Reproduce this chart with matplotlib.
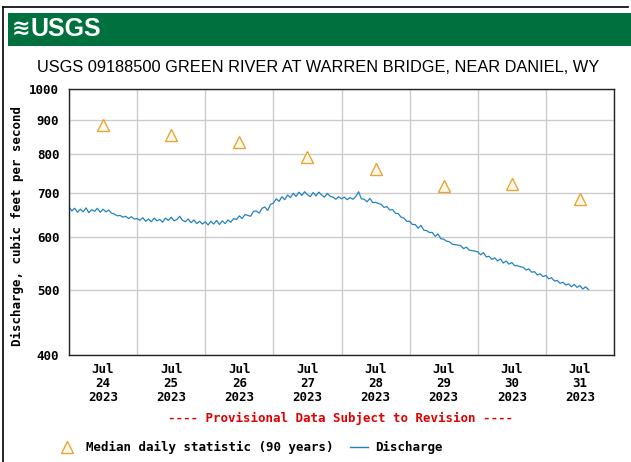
import matplotlib
matplotlib.use("Agg")
import matplotlib.pyplot as plt
from matplotlib import font_manager
from matplotlib.lines import Line2D
from matplotlib.patches import Rectangle
from matplotlib.ticker import NullLocator, NullFormatter
import pandas as pd

# hourly discharge (cfs), one list per day starting 00:00
jul24 = [666, 657, 663, 654, 661, 655, 664, 653, 660, 656, 663, 654,
         661, 655, 659, 652, 650, 646, 647, 643, 645, 640, 644, 639]
jul25 = [640, 636, 642, 634, 639, 633, 641, 635, 638, 632, 641, 636,
         643, 635, 638, 645, 636, 633, 639, 631, 637, 629, 634, 628]
jul26 = [633, 626, 634, 628, 636, 627, 635, 629, 637, 632, 640, 638,
         646, 640, 649, 647, 645, 656, 657, 652, 663, 666, 658, 672]
jul27 = [675, 685, 679, 690, 683, 694, 688, 698, 691, 701, 693, 702,
         695, 690, 700, 692, 701, 694, 689, 698, 691, 689, 684, 690]
jul28 = [685, 689, 683, 688, 684, 690, 702, 685, 684, 678, 686, 676,
         677, 674, 672, 665, 667, 659, 660, 652, 651, 643, 641, 634]
jul29 = [634, 627, 627, 619, 625, 615, 614, 610, 610, 602, 607, 597,
         596, 592, 591, 586, 585, 584, 583, 577, 580, 574, 573, 572]
jul30 = [571, 565, 569, 561, 562, 556, 559, 553, 557, 549, 553, 547,
         550, 544, 544, 542, 541, 536, 538, 532, 533, 527, 529, 524]
jul31 = [526, 520, 522, 516, 517, 512, 514, 509, 511, 506, 510, 505,
         508, 502, 506, 501]

discharge = jul24 + jul25 + jul26 + jul27 + jul28 + jul29 + jul30 + jul31
times = pd.date_range("2023-07-24 00:00", periods=len(discharge), freq="h")

# median daily statistic (90 years), plotted at noon
median_days = pd.date_range("2023-07-24 12:00", periods=8, freq="D")
median_cfs = [884, 854, 833, 791, 759, 716, 721, 685]

day_labels = ["Jul\n24\n2023", "Jul\n25\n2023", "Jul\n26\n2023", "Jul\n27\n2023",
              "Jul\n28\n2023", "Jul\n29\n2023", "Jul\n30\n2023", "Jul\n31\n2023"]
y_ticks = [400, 500, 600, 700, 800, 900, 1000]

title = "USGS 09188500 GREEN RIVER AT WARREN BRIDGE, NEAR DANIEL, WY"

W, H = 631, 462
fig = plt.figure(figsize=(W / 100, H / 100), dpi=100)

names = {f.name for f in font_manager.fontManager.ttflist}
narrow = "Liberation Sans Narrow" if "Liberation Sans Narrow" in names else "Liberation Sans"
title_size = 13 if narrow == "Liberation Sans Narrow" else 11.8
logo_size = 21 if narrow == "Liberation Sans Narrow" else 18
mono = dict(family="DejaVu Sans Mono", weight="bold", size=9)

# page border (left and top only)
fig.add_artist(Line2D([3 / W, 3 / W], [0, 1 - 7 / H], transform=fig.transFigure, color="black", lw=1.2))
fig.add_artist(Line2D([3 / W, 628 / W], [1 - 7 / H, 1 - 7 / H], transform=fig.transFigure, color="black", lw=1.2))

# green USGS banner
fig.add_artist(Rectangle((8 / W, 1 - 46 / H), (W - 8) / W, 33 / H, transform=fig.transFigure,
                         facecolor="#00703f", edgecolor="none"))
fig.text(12 / W, 1 - 29 / H, "≋", color="white", fontsize=16, fontweight="bold", va="center")
fig.text(31 / W, 1 - 29 / H, "USGS", color="white", fontsize=logo_size, fontweight="bold",
         family=narrow, va="center")

fig.text(318 / W, 1 - 68 / H, title, fontsize=title_size, family=narrow, ha="center", va="center")

ax = fig.add_axes([69 / W, 1 - 355 / H, 545 / W, 266 / H])
ax.plot(times, discharge, color="#2383c0", lw=0.9)
ax.plot(median_days, median_cfs, linestyle="none", marker="^", ms=8,
        mfc="#fffbe8", mec="#e8a33a", mew=1.0)

ax.set_yscale("log")
ax.set_ylim(400, 1000)
ax.set_yticks(y_ticks)
ax.set_yticklabels([str(v) for v in y_ticks])
ax.yaxis.set_minor_locator(NullLocator())

ax.set_xlim(pd.Timestamp("2023-07-24"), pd.Timestamp("2023-08-01"))
ax.set_xticks(pd.date_range("2023-07-24", "2023-08-01", freq="D"))
ax.xaxis.set_major_formatter(NullFormatter())
ax.set_xticks(median_days, labels=day_labels, minor=True)

ax.grid(True, which="major", color="#cccccc", lw=1)
ax.tick_params(axis="both", which="both", length=0)
ax.tick_params(axis="y", pad=7)
ax.tick_params(axis="x", which="minor", pad=6)
for lab in ax.get_yticklabels():
    lab.set(**mono)
for lab in ax.get_xticklabels(minor=True):
    lab.set(**mono)
    lab.set_linespacing(1.1)
for sp in ax.spines.values():
    sp.set_color("#222222")
    sp.set_linewidth(1)

fig.text(17 / W, 1 - 226 / H, "Discharge, cubic feet per second", rotation=90,
         ha="center", va="center", **mono)
fig.text(341 / W, 1 - 418 / H, "---- Provisional Data Subject to Revision ----",
         color="#e00000", ha="center", va="center", **mono)

# legend row
fig.add_artist(Line2D([67 / W], [1 - 447 / H], transform=fig.transFigure, linestyle="none",
                      marker="^", ms=8, mfc="#fffbe8", mec="#e8a33a", mew=1.0))
fig.text(86 / W, 1 - 447 / H, "Median daily statistic (90 years)", va="center", **mono)
fig.add_artist(Line2D([350 / W, 368 / W], [1 - 447 / H, 1 - 447 / H], transform=fig.transFigure,
                      color="#2383c0", lw=1))
fig.text(375 / W, 1 - 447 / H, "Discharge", va="center", **mono)

fig.savefig("out.png", dpi=100, facecolor="white")
